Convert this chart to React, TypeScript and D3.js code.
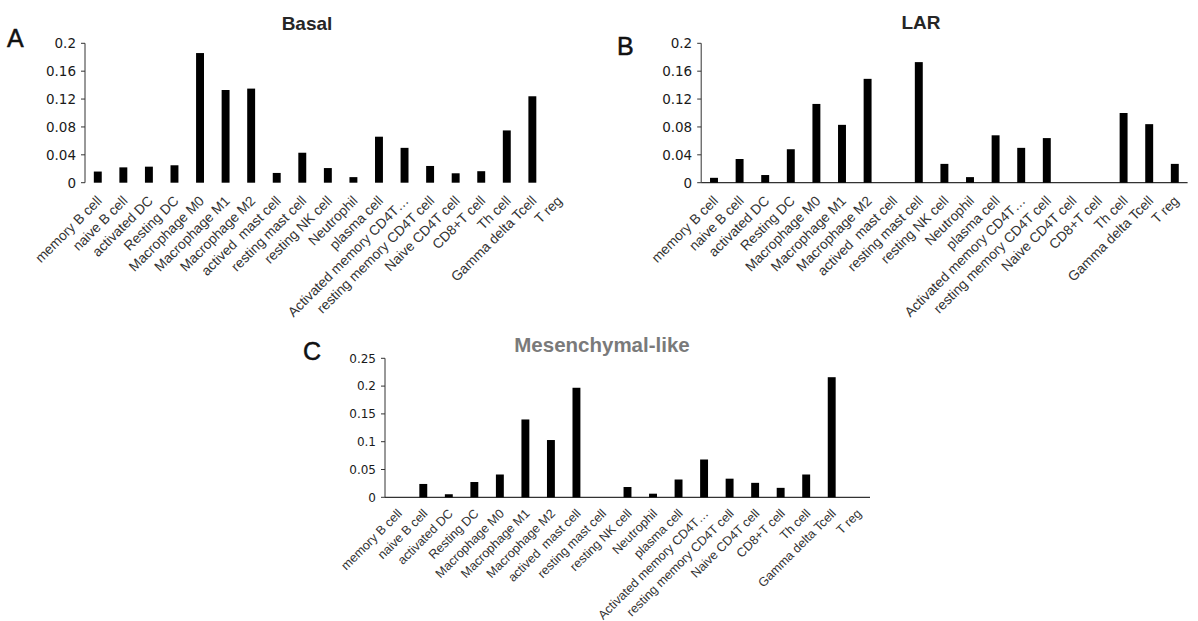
import React from "react";
import * as d3 from "d3";

const categories = [
  "memory B cell",
  "naive B cell",
  "activated DC",
  "Resting DC",
  "Macrophage M0",
  "Macrophage M1",
  "Macrophage M2",
  "actived  mast cell",
  "resting mast cell",
  "resting NK cell",
  "Neutrophil",
  "plasma cell",
  "Activated memory CD4T\u2026",
  "resting memory CD4T cell",
  "Naive CD4T cell",
  "CD8+T cell",
  "Th cell",
  "Gamma delta Tcell",
  "T reg",
];

const basalValues = [0.016, 0.022, 0.023, 0.025, 0.186, 0.133, 0.135, 0.014, 0.043, 0.021, 0.008, 0.066, 0.05, 0.024, 0.0135, 0.0165, 0.075, 0.124, 0];
const larValues = [0.007, 0.034, 0.011, 0.048, 0.113, 0.083, 0.149, 0, 0.173, 0.027, 0.008, 0.068, 0.05, 0.064, 0, 0, 0.1, 0.084, 0.027];
const mesValues = [0, 0.024, 0.0055, 0.0275, 0.041, 0.14, 0.103, 0.197, 0, 0.0185, 0.0065, 0.032, 0.068, 0.0335, 0.026, 0.017, 0.041, 0.216, 0];

const ticksAB = [0, 0.04, 0.08, 0.12, 0.16, 0.2];
const ticksC = [0, 0.05, 0.1, 0.15, 0.2, 0.25];

const panelLetters = ["A", "B", "C"];
const panelTitles = ["Basal", "LAR", "Mesenchymal-like"];

type PanelProps = {
  values: number[];
  ticks: number[];
  x0: number;
  x1: number;
  yTop: number;
  yBottom: number;
  showXAxis: boolean;
  title: string;
  titleX: number;
  titleY: number;
  titleColor: string;
  titleFont: number;
  letter: string;
  letterX: number;
  letterY: number;
  tickFont: number;
  labelFont: number;
  labelDy: number;
};

function Panel(p: PanelProps) {
  const x = d3.scaleBand<string>().domain(categories).range([p.x0, p.x1]).paddingInner(0).paddingOuter(0);
  const maxT = p.ticks[p.ticks.length - 1];
  const y = d3.scaleLinear().domain([0, maxT]).range([p.yBottom, p.yTop]);
  const bw = x.bandwidth();
  const barW = bw * 0.31;
  const axisColor = "#333";
  return (
    <g>
      <text x={p.letterX} y={p.letterY} fontFamily="Liberation Sans, Arial, sans-serif" fontSize={25} fill="#111" stroke="#111" strokeWidth={0.5}>
        {p.letter}
      </text>
      <text x={p.titleX} y={p.titleY} textAnchor="middle" fontFamily="Liberation Sans, Arial, sans-serif" fontWeight="bold" fontSize={p.titleFont} fill={p.titleColor}>
        {p.title}
      </text>
      <line x1={p.x0} x2={p.x0} y1={y(maxT)} y2={y(0)} stroke={axisColor} strokeWidth={1} />
      {p.ticks.map((t) => (
        <g key={t}>
          <line x1={p.x0 - 4} x2={p.x0} y1={y(t)} y2={y(t)} stroke={axisColor} strokeWidth={1} />
          <text x={p.x0 - 9} y={y(t)} dy="0.36em" textAnchor="end" fontFamily="DejaVu Sans, sans-serif" fontSize={p.tickFont} fill="#1a1a1a">
            {d3.format("~g")(t)}
          </text>
        </g>
      ))}
      {p.showXAxis && <line x1={p.x0} x2={p.x1} y1={y(0)} y2={y(0)} stroke={axisColor} strokeWidth={1.2} />}
      {categories.map((c, i) => {
        const v = p.values[i];
        const cx = (x(c) as number) + bw / 2;
        return <rect key={c} x={cx - barW / 2} width={barW} y={y(v)} height={y(0) - y(v)} fill="#000" />;
      })}
      {categories.map((c) => {
        const cx = (x(c) as number) + bw / 2;
        const ax = cx + 5;
        const ay = y(0) + p.labelDy;
        return (
          <text
            key={c + "l"}
            transform={`translate(${ax},${ay}) rotate(-45)`}
            textAnchor="end"
            fontFamily="Liberation Sans, Arial, sans-serif"
            fontSize={p.labelFont}
            fill="#333"
            style={{ whiteSpace: "pre" }}
          >
            {c}
          </text>
        );
      })}
    </g>
  );
}

export default function App() {
  return (
    <div style={{ position: "absolute", left: 0, top: 0 }}>
      <svg width={1198} height={621} style={{ display: "block", background: "#fff" }}>
        <Panel
          values={basalValues}
          ticks={ticksAB}
          x0={85}
          x1={570.7}
          yTop={43.3}
          yBottom={182.7}
          showXAxis={false}
          title={panelTitles[0]}
          titleX={307}
          titleY={30}
          titleColor="#262626"
          titleFont={19}
          letter={panelLetters[0]}
          letterX={7}
          letterY={47}
          tickFont={13.5}
          labelFont={13.8}
          labelDy={19}
        />
        <Panel
          values={larValues}
          ticks={ticksAB}
          x0={701.2}
          x1={1187.6}
          yTop={43.3}
          yBottom={182.7}
          showXAxis={true}
          title={panelTitles[1]}
          titleX={921}
          titleY={28.5}
          titleColor="#262626"
          titleFont={19}
          letter={panelLetters[1]}
          letterX={617}
          letterY={55}
          tickFont={13.5}
          labelFont={13.8}
          labelDy={19}
        />
        <Panel
          values={mesValues}
          ticks={ticksC}
          x0={385}
          x1={870}
          yTop={358.3}
          yBottom={497.3}
          showXAxis={true}
          title={panelTitles[2]}
          titleX={602}
          titleY={352}
          titleColor="#7a7a7a"
          titleFont={20.5}
          letter={panelLetters[2]}
          letterX={303}
          letterY={359.5}
          tickFont={12}
          labelFont={12.6}
          labelDy={17}
        />
      </svg>
    </div>
  );
}
